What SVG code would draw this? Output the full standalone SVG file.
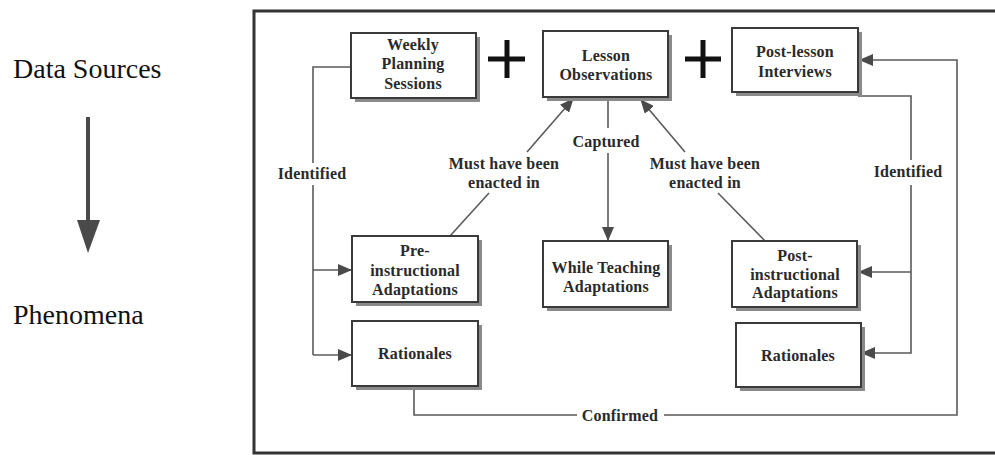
<svg xmlns="http://www.w3.org/2000/svg" width="995" height="455" viewBox="0 0 995 455">
<style>
.box{fill:#fff;stroke:#3a3a3a;stroke-width:2}
.shadow{fill:#8a8a8a}
.t{font-family:"Liberation Serif",serif;font-size:16px;font-weight:bold;fill:#2a2a2a;text-anchor:middle;letter-spacing:0.2px}
.lbl{font-family:"Liberation Serif",serif;font-size:16px;font-weight:bold;fill:#2a2a2a;text-anchor:middle;letter-spacing:0.2px}
.side{font-family:"Liberation Serif",serif;font-size:28px;fill:#111}
.c{fill:none;stroke:#5a5a5a;stroke-width:1.6}
.plus{stroke:#111;stroke-width:5}
</style>
<defs>
<marker id="ah" markerUnits="userSpaceOnUse" markerWidth="14" markerHeight="12" refX="13" refY="6" orient="auto">
<path d="M0,0 L14,6 L0,12 z" fill="#4a4a4a"/>
</marker>
</defs>
<rect width="995" height="455" fill="#fff"/>
<g id="frame">
<path d="M995,11 L254,11 L254,453 L995,453" fill="none" stroke="#333" stroke-width="3"/>
</g>
<g id="legend">
<text class="side" x="13" y="78">Data Sources</text>
<line x1="88" y1="117" x2="88" y2="222" stroke="#4a4a4a" stroke-width="4"/>
<polygon points="77,220 100,220 88,253" fill="#4a4a4a"/>
<text class="side" x="13" y="324">Phenomena</text>
</g>
<g id="plus1"><line class="plus" x1="488" y1="59" x2="525" y2="59"/><line class="plus" x1="507" y1="40" x2="507" y2="78"/></g>
<g id="plus2"><line class="plus" x1="685" y1="59" x2="721" y2="59"/><line class="plus" x1="703" y1="40" x2="703" y2="78"/></g>
<g id="connectors">
<path class="c" d="M351,67 L313,67 L313,163"/>
<path class="c" d="M313,185 L313,355"/>
<path class="c" d="M313,270 L351,270" marker-end="url(#ah)"/>
<path class="c" d="M313,355 L351,355" marker-end="url(#ah)"/>
<path class="c" d="M608,97 L608,128"/>
<path class="c" d="M608,153 L608,240" marker-end="url(#ah)"/>
<path class="c" d="M450,236 L489,193"/>
<path class="c" d="M527,152 L573,99" marker-end="url(#ah)"/>
<path class="c" d="M765,241 L718,193"/>
<path class="c" d="M685,152 L641,100" marker-end="url(#ah)"/>
<path class="c" d="M858,96 L911,96 L911,160"/>
<path class="c" d="M911,185 L911,353 L862,353" marker-end="url(#ah)"/>
<path class="c" d="M911,272 L859,272" marker-end="url(#ah)"/>
<path class="c" d="M414,387 L414,415 L577,415"/>
<path class="c" d="M664,415 L957,415 L957,60 L860,60" marker-end="url(#ah)"/>
<text class="lbl" x="312" y="179">Identified</text>
<text class="lbl" x="606" y="147">Captured</text>
<text class="lbl" x="504" y="169">Must have been</text>
<text class="lbl" x="504" y="188">enacted in</text>
<text class="lbl" x="705" y="169">Must have been</text>
<text class="lbl" x="705" y="188">enacted in</text>
<text class="lbl" x="908" y="177">Identified</text>
<text class="lbl" x="620" y="421">Confirmed</text>
</g>
<g id="weekly">
<rect class="shadow" x="355" y="37" width="125" height="65"/>
<rect class="box" x="351" y="33" width="125" height="65"/>
<text class="t" x="413" y="50">Weekly</text><text class="t" x="413" y="69">Planning</text><text class="t" x="413" y="89">Sessions</text>
</g>
<g id="lesson">
<rect class="shadow" x="547" y="35" width="125" height="66"/>
<rect class="box" x="543" y="31" width="125" height="66"/>
<text class="t" x="606" y="61">Lesson</text><text class="t" x="606" y="80">Observations</text>
</g>
<g id="postlesson">
<rect class="shadow" x="736" y="32" width="126" height="64"/>
<rect class="box" x="732" y="28" width="126" height="64"/>
<text class="t" x="795" y="57">Post-lesson</text><text class="t" x="795" y="77">Interviews</text>
</g>
<g id="pre">
<rect class="shadow" x="356" y="240" width="126" height="66"/>
<rect class="box" x="352" y="236" width="126" height="66"/>
<text class="t" x="415" y="256">Pre-</text><text class="t" x="415" y="276">instructional</text><text class="t" x="415" y="295">Adaptations</text>
</g>
<g id="rat1">
<rect class="shadow" x="356" y="325" width="126" height="65"/>
<rect class="box" x="352" y="321" width="126" height="65"/>
<text class="t" x="415" y="359">Rationales</text>
</g>
<g id="while">
<rect class="shadow" x="547" y="245" width="125" height="66"/>
<rect class="box" x="543" y="241" width="125" height="66"/>
<text class="t" x="606" y="273">While Teaching</text><text class="t" x="606" y="292">Adaptations</text>
</g>
<g id="post">
<rect class="shadow" x="736" y="245" width="125" height="66"/>
<rect class="box" x="732" y="241" width="125" height="66"/>
<text class="t" x="795" y="261">Post-</text><text class="t" x="795" y="280">instructional</text><text class="t" x="795" y="298">Adaptations</text>
</g>
<g id="rat2">
<rect class="shadow" x="740" y="327" width="125" height="64"/>
<rect class="box" x="736" y="323" width="125" height="64"/>
<text class="t" x="798" y="361">Rationales</text>
</g>
</svg>
